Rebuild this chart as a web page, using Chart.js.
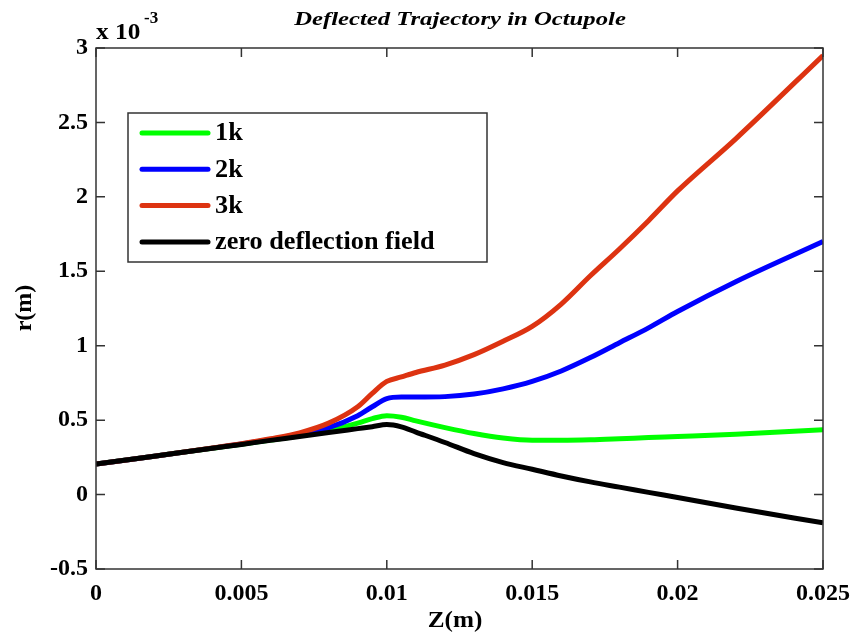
<!DOCTYPE html>
<html>
<head>
<meta charset="utf-8">
<script src="https://cdn.jsdelivr.net/npm/chart.js@4/dist/chart.umd.min.js"></script>
<style>
  body { margin: 0; background: #fff; }
  canvas { display: block; }
</style>
</head>
<body>
<canvas id="myChart" width="860" height="638"></canvas>
<script>
// z positions (m)
const zValues = [0, 0.002, 0.004, 0.005, 0.006, 0.007, 0.008, 0.009, 0.0095, 0.01, 0.0105,
    0.011, 0.012, 0.013, 0.014, 0.015, 0.016, 0.017, 0.018, 0.019, 0.02, 0.022, 0.025];

// r values, in units of 1e-3 m
const r1k = [0.205, 0.258, 0.311, 0.338, 0.366, 0.395, 0.43, 0.48, 0.51, 0.53, 0.52,
    0.495, 0.45, 0.41, 0.38, 0.365, 0.365, 0.368, 0.375, 0.383, 0.39, 0.405, 0.435];
const r2k = [0.205, 0.258, 0.312, 0.34, 0.37, 0.405, 0.45, 0.53, 0.59, 0.645, 0.655,
    0.655, 0.658, 0.675, 0.71, 0.76, 0.83, 0.92, 1.02, 1.12, 1.23, 1.43, 1.70];
const r3k = [0.205, 0.258, 0.313, 0.342, 0.375, 0.415, 0.48, 0.59, 0.68, 0.76, 0.79,
    0.82, 0.87, 0.94, 1.03, 1.13, 1.28, 1.47, 1.65, 1.84, 2.04, 2.39, 2.95];
const rZero = [0.205, 0.258, 0.311, 0.337, 0.364, 0.39, 0.417, 0.443, 0.456, 0.47, 0.455,
    0.42, 0.35, 0.275, 0.215, 0.17, 0.125, 0.085, 0.05, 0.015, -0.02, -0.09, -0.19];

const seriesNames = ['1k', '2k', '3k', 'zero deflection field'];
const seriesColors = ['#00ff00', '#0000ff', '#dd3311', '#000000'];
const xTicks = [0, 0.005, 0.01, 0.015, 0.02, 0.025];
const yTicks = [-0.5, 0, 0.5, 1, 1.5, 2, 2.5, 3];

const serif = '"Liberation Serif", "DejaVu Serif", serif';

function toPoints(ys) {
    return zValues.map((z, i) => ({ x: z, y: ys[i] }));
}

// text stretched horizontally, the figure was saved wider than tall
function wideText(ctx, text, x, y, stretch) {
    ctx.save();
    ctx.translate(x, y);
    ctx.scale(stretch, 1);
    ctx.fillText(text, 0, 0);
    ctx.restore();
}

// frame, inward ticks, titles and legend drawn like a MATLAB figure
const matlabLook = {
    id: 'matlabLook',
    afterDraw(chart) {
        const ctx = chart.ctx;
        const a = chart.chartArea;
        const sx = chart.scales.x;
        const sy = chart.scales.y;
        ctx.save();
        ctx.strokeStyle = '#333';
        ctx.lineWidth = 1.5;
        ctx.strokeRect(a.left, a.top, a.right - a.left, a.bottom - a.top);
        ctx.beginPath();
        xTicks.forEach(v => {
            const px = sx.getPixelForValue(v);
            ctx.moveTo(px, a.bottom); ctx.lineTo(px, a.bottom - 9);
            ctx.moveTo(px, a.top); ctx.lineTo(px, a.top + 9);
        });
        yTicks.forEach(v => {
            const py = sy.getPixelForValue(v);
            ctx.moveTo(a.left, py); ctx.lineTo(a.left + 9, py);
            ctx.moveTo(a.right, py); ctx.lineTo(a.right - 9, py);
        });
        ctx.stroke();

        ctx.fillStyle = '#000';
        // title
        ctx.font = 'italic bold 19px ' + serif;
        ctx.textAlign = 'center';
        ctx.textBaseline = 'alphabetic';
        wideText(ctx, 'Deflected Trajectory in Octupole', 460, 25, 1.3);
        // axis labels
        ctx.font = 'bold 24px ' + serif;
        wideText(ctx, 'Z(m)', 455, 627, 1.05);
        ctx.save();
        ctx.translate(31, 308);
        ctx.rotate(-Math.PI / 2);
        ctx.fillText('r(m)', 0, 0);
        ctx.restore();
        // exponent
        ctx.textAlign = 'left';
        ctx.font = 'bold 23px ' + serif;
        wideText(ctx, 'x 10', 96, 39, 1.1);
        ctx.font = 'bold 17px ' + serif;
        ctx.fillText('-3', 144, 23);

        // legend
        ctx.fillStyle = '#fff';
        ctx.fillRect(128, 113, 359, 149);
        ctx.strokeStyle = '#333';
        ctx.lineWidth = 1.5;
        ctx.strokeRect(128, 113, 359, 149);
        ctx.font = 'bold 25px ' + serif;
        ctx.textBaseline = 'middle';
        seriesNames.forEach((name, i) => {
            const y = 133 + i * 36.3;
            ctx.strokeStyle = seriesColors[i];
            ctx.lineWidth = 5;
            ctx.lineCap = 'round';
            ctx.beginPath();
            ctx.moveTo(142, y);
            ctx.lineTo(208, y);
            ctx.stroke();
            ctx.fillStyle = '#000';
            wideText(ctx, name, 215, y + 1, 1.05);
        });
        ctx.restore();
    }
};

const context = document.getElementById('myChart').getContext('2d');
const myChart = new Chart(context, {
    type: 'line',
    data: {
        datasets: [r1k, r2k, r3k, rZero].map((ys, i) => ({
            label: seriesNames[i],
            data: toPoints(ys),
            borderColor: seriesColors[i],
            backgroundColor: seriesColors[i],
            borderWidth: 5,
            pointRadius: 0,
            fill: false,
            cubicInterpolationMode: 'monotone'
        })).reverse()
    },
    options: {
        responsive: false,
        animation: false,
        layout: { padding: { top: 48, right: 37, left: 0, bottom: 0 } },
        plugins: {
            legend: { display: false },
            tooltip: { enabled: false }
        },
        scales: {
            x: {
                type: 'linear',
                min: 0,
                max: 0.025,
                afterFit: s => { s.height = 69; },
                afterBuildTicks: s => { s.ticks = xTicks.map(v => ({ value: v })); },
                grid: { display: false, drawTicks: false },
                border: { display: false },
                ticks: {
                    padding: 10,
                    color: '#000',
                    font: { family: serif, size: 24, weight: 'bold' },
                    callback: v => String(parseFloat(v.toFixed(3)))
                }
            },
            y: {
                min: -0.5,
                max: 3,
                afterFit: s => { s.width = 96; },
                afterBuildTicks: s => { s.ticks = yTicks.map(v => ({ value: v })); },
                grid: { display: false, drawTicks: false },
                border: { display: false },
                ticks: {
                    padding: 8,
                    color: '#000',
                    font: { family: serif, size: 24, weight: 'bold' },
                    callback: v => String(parseFloat(v.toFixed(1)))
                }
            }
        }
    },
    plugins: [matlabLook]
});
</script>
</body>
</html>
